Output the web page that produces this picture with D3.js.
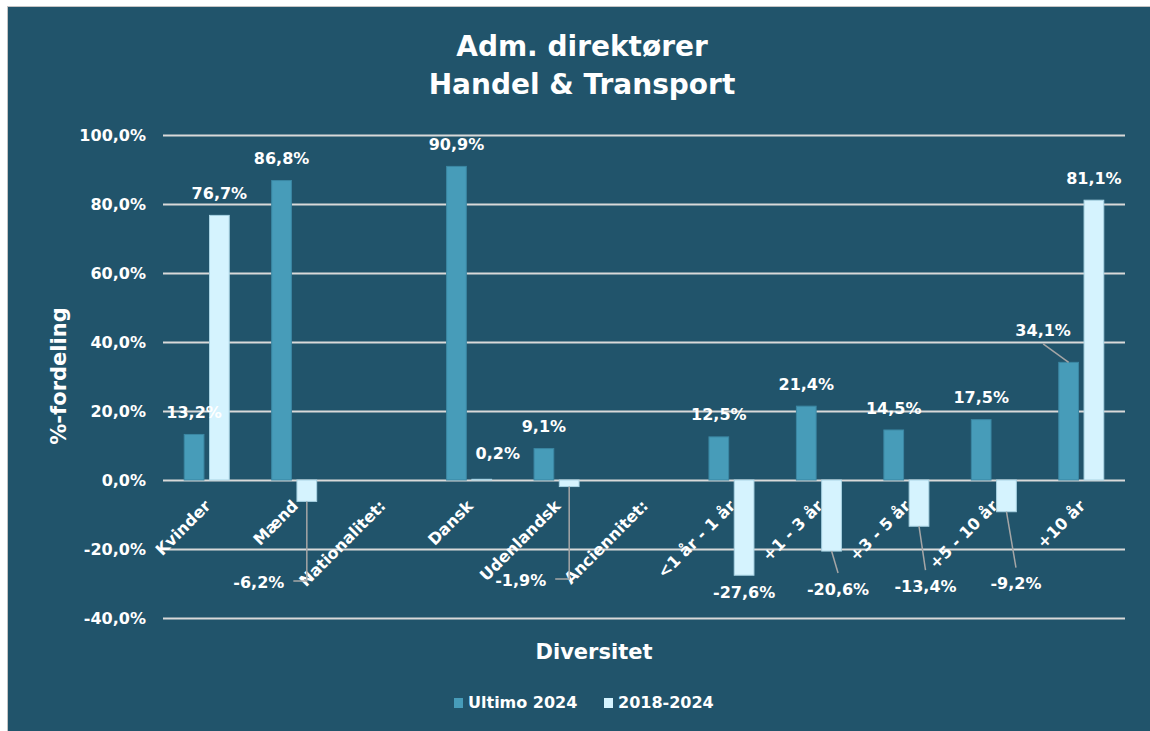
<!DOCTYPE html>
<html>
<head>
<meta charset="utf-8">
<script src="https://cdn.jsdelivr.net/npm/d3@7"></script>
<style>
  html, body { margin: 0; padding: 0; background: #ffffff; }
  svg { display: block; font-family: "DejaVu Sans", sans-serif; font-weight: bold; }
</style>
</head>
<body>
<svg id="canvas" width="1150" height="731"></svg>
<script>
(function() {

    // data
    const categories = ["Kvinder", "Mænd", "Nationalitet:", "Dansk", "Udenlandsk", "Anciennitet:",
                        "<1 år - 1 år", "+1 - 3 år", "+3 - 5 år", "+5 - 10 år", "+10 år"];
    const seriesNames = ["Ultimo 2024", "2018-2024"];
    const ultimo2024 = [13.2, 86.8, null, 90.9, 9.1, null, 12.5, 21.4, 14.5, 17.5, 34.1];
    const change2018 = [76.7, -6.2, null, 0.2, -1.9, null, -27.6, -20.6, -13.4, -9.2, 81.1];
    const yTicks = [-40, -20, 0, 20, 40, 60, 80, 100];

    // labels that Excel moved off their default spot (pixel nudges + leader style)
    const labelNudges = [
      {s: 1, i: 1, dx: -48, dy: 64, leader: "elbow"},
      {s: 1, i: 3, dx: 16, dy: -4, leader: null},
      {s: 1, i: 4, dx: -48.5, dy: 77, leader: "elbow"},
      {s: 1, i: 7, dx: 6.5, dy: 21, leader: "line"},
      {s: 1, i: 8, dx: 6.5, dy: 43, leader: "line"},
      {s: 1, i: 9, dx: 9.5, dy: 55, leader: "line"},
      {s: 0, i: 10, dx: -25.5, dy: -9.5, leader: "line"}
    ];

    var width = 1150, height = 731
    var bg = "#21546b", barColors = ["#479cb9", "#d5f3fe"], barStrokes = ["#3b87a3", "#a9d3e3"]
    var gridColor = "#d9d9d9", leaderColor = "#a6a6a6"

    const da = d3.formatLocale({decimal: ",", thousands: ".", grouping: [3], currency: ["", " kr."], minus: "-"});
    const pct = v => da.format(".1f")(v) + "%";

    const svg = d3.select("#canvas");

    svg.append("rect")
      .attr("x", 7.5).attr("y", 6.5)
      .attr("width", width).attr("height", height)
      .attr("fill", bg)
      .attr("stroke", "#c4c4c4").attr("stroke-width", 1);

    // title
    const title = svg.append("text")
      .attr("text-anchor", "middle")
      .attr("fill", "#ffffff")
      .attr("font-size", 28);
    title.append("tspan").attr("x", 582).attr("y", 56).text("Adm. direktører");
    title.append("tspan").attr("x", 582).attr("y", 94).text("Handel & Transport");

    var left = 163, right = 1125
    const y = d3.scaleLinear().domain([-40, 100]).range([618, 135]);
    const x0 = d3.scaleBand().domain(categories).range([left, right]).padding(0);
    const x1 = d3.scaleBand().domain(seriesNames).range([0, 45]).paddingInner(0.22);

    // y axis + gridlines
    const yAxis = svg.append("g")
      .attr("transform", `translate(${left},0)`)
      .call(d3.axisLeft(y).tickValues(yTicks).tickFormat(pct).tickSize(-(right - left)).tickPadding(17));
    yAxis.select(".domain").remove();
    yAxis.selectAll(".tick line").attr("stroke", gridColor).attr("stroke-width", 2);
    yAxis.selectAll(".tick text")
      .attr("fill", "#ffffff")
      .attr("font-size", 16)
      .attr("font-family", "DejaVu Sans")
      .attr("font-weight", "bold");

    // x axis category labels, rotated
    const xAxis = svg.append("g")
      .attr("transform", `translate(0,${y(0)})`)
      .call(d3.axisBottom(x0).tickSize(0).tickPadding(0));
    xAxis.select(".domain").remove();
    xAxis.selectAll(".tick text")
      .attr("x", 0).attr("y", 0).attr("dy", "0.35em")
      .attr("text-anchor", "end")
      .attr("transform", "translate(1,23) rotate(-45)")
      .attr("fill", "#ffffff")
      .attr("font-size", 16)
      .attr("font-family", "DejaVu Sans")
      .attr("font-weight", "bold");

    // bars
    const seriesValues = [ultimo2024, change2018];
    const rows = [];
    seriesValues.forEach((vals, s) => {
      vals.forEach((v, i) => {
        if (v !== null) rows.push({s: s, i: i, v: v, cat: categories[i], name: seriesNames[s]});
      });
    });
    const barX = d => x0(d.cat) + x0.bandwidth() / 2 - 22.5 + x1(d.name);

    svg.append("g")
      .selectAll("rect")
      .data(rows)
      .join("rect")
        .attr("x", barX)
        .attr("y", d => Math.min(y(d.v), y(0)))
        .attr("width", x1.bandwidth())
        .attr("height", d => Math.abs(y(d.v) - y(0)))
        .attr("fill", d => barColors[d.s])
        .attr("stroke", d => barStrokes[d.s])
        .attr("stroke-width", 1);

    // data labels
    const labelG = svg.append("g");
    const leaderG = svg.append("g");
    rows.forEach(d => {
      var bx = barX(d) + x1.bandwidth() / 2
      var by = y(d.v)
      var lx = bx, ly = d.v >= 0 ? by - 22 : by + 17
      const nudge = labelNudges.find(n => n.s === d.s && n.i === d.i);
      if (nudge) { lx += nudge.dx; ly += nudge.dy; }
      const t = labelG.append("text")
        .attr("x", lx).attr("y", ly).attr("dy", "0.35em")
        .attr("text-anchor", "middle")
        .attr("fill", "#ffffff")
        .attr("font-size", 16)
        .text(pct(d.v));
      if (nudge && nudge.leader) {
        let pts;
        if (nudge.leader === "elbow") {
          const half = t.node().getComputedTextLength() / 2;
          pts = [[bx, by], [bx, ly - 1.5], [lx + half + 9, ly - 1.5]];
        } else {
          pts = [[bx, by], [lx, ly > by ? ly - 16 : ly + 13]];
        }
        leaderG.append("path")
          .attr("d", d3.line()(pts))
          .attr("fill", "none")
          .attr("stroke", leaderColor)
          .attr("stroke-width", 1.5);
      }
    });

    // axis titles
    svg.append("text")
      .attr("transform", "translate(66,376) rotate(-90)")
      .attr("text-anchor", "middle")
      .attr("fill", "#ffffff")
      .attr("font-size", 21)
      .text("%-fordeling");

    svg.append("text")
      .attr("x", 594).attr("y", 659)
      .attr("text-anchor", "middle")
      .attr("fill", "#ffffff")
      .attr("font-size", 21)
      .text("Diversitet");

    // legend
    var legendX = [454, 604]
    seriesNames.forEach((name, s) => {
      svg.append("rect")
        .attr("x", legendX[s]).attr("y", 698)
        .attr("width", 9).attr("height", 10)
        .attr("fill", barColors[s]);
      svg.append("text")
        .attr("x", legendX[s] + 14).attr("y", 708)
        .attr("fill", "#ffffff")
        .attr("font-size", 16)
        .text(name);
    });

})();
</script>
</body>
</html>
